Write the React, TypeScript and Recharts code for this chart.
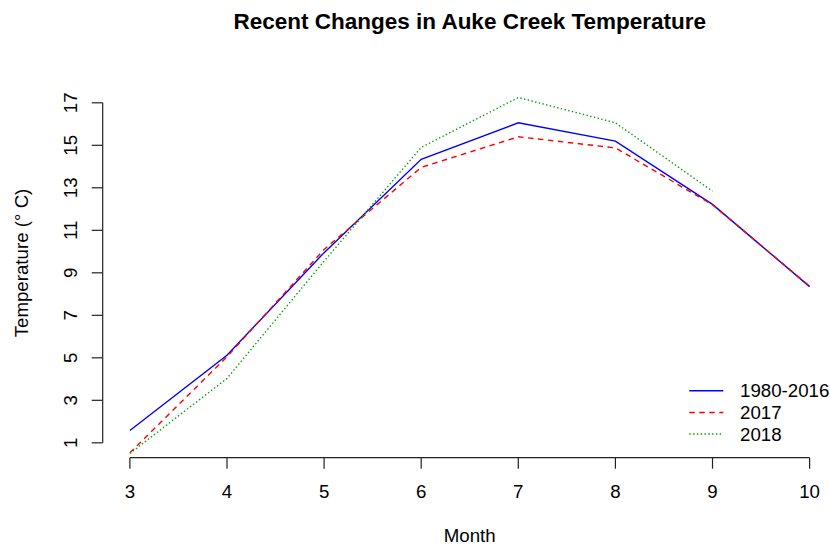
import React from "react";
import {
  LineChart,
  Line,
  XAxis,
  YAxis,
  ReferenceLine,
  Legend,
} from "recharts";

// values
const MONTHS = [3, 4, 5, 6, 7, 8, 9, 10];
const AVG_1980_2016 = [1.58, 5.12, 9.95, 14.34, 16.06, 15.2, 12.22, 8.35];
const Y2017 = [0.53, 5.05, 10.1, 13.96, 15.4, 14.88, 12.2, 8.37];
const Y2018 = [0.5, 4.03, 9.55, 14.9, 17.25, 16.06, 12.84, null];

const X_TICKS = [3, 4, 5, 6, 7, 8, 9, 10];
const Y_TICKS = [1, 3, 5, 7, 9, 11, 13, 15, 17];

const X_MIN = 2.72;
const X_MAX = 10.28;
const Y_MIN = 0.3;
const Y_MAX = 18.6;

const FONT = "'Liberation Sans', Arial, sans-serif";
const AXIS_COLOR = "#222";

const SERIES = [
  { key: "avg", name: "1980-2016", color: "#0000FF", dash: undefined },
  { key: "y2017", name: "2017", color: "#FF0000", dash: "5.5 4.5" },
  { key: "y2018", name: "2018", color: "#00A000", dash: "1.4 2.4" },
];

const data = MONTHS.map((m, i) => ({
  month: m,
  avg: AVG_1980_2016[i],
  y2017: Y2017[i],
  y2018: Y2018[i],
}));

function XTick({ x, y, payload }: any) {
  return (
    <text x={x} y={y} dy="0.71em" textAnchor="middle" fill="#000" fontSize={18.7} fontFamily={FONT}>
      {payload.value}
    </text>
  );
}

function YTick({ x, y, payload }: any) {
  return (
    <text
      x={x}
      y={y}
      transform={`rotate(-90, ${x}, ${y})`}
      textAnchor="middle"
      fill="#000"
      fontSize={18.7}
      fontFamily={FONT}
    >
      {payload.value}
    </text>
  );
}

function LegendBox() {
  return (
    <svg width={150} height={70} style={{ display: "block" }}>
      {SERIES.map((s, i) => {
        const cy = 12.7 + i * 21.7;
        return (
          <g key={s.key}>
            <line x1={4.3} x2={38.3} y1={cy} y2={cy} stroke={s.color} strokeWidth={1.5} strokeDasharray={s.dash} />
            <text x={55} y={cy + 6.7} fontSize={18.7} fontFamily={FONT} fill="#000">
              {s.name}
            </text>
          </g>
        );
      })}
    </svg>
  );
}

export default function App() {
  return (
    <div
      style={{
        position: "absolute",
        left: 0,
        top: 0,
        width: 830,
        height: 546,
        overflow: "hidden",
        background: "#fff",
        fontFamily: FONT,
      }}
    >
      <div
        style={{
          position: "absolute",
          left: 169.75,
          top: 10.9,
          width: 600,
          textAlign: "center",
          fontSize: 22.5,
          lineHeight: "22.5px",
          fontWeight: "bold",
          color: "#000",
          whiteSpace: "nowrap",
        }}
      >
        Recent Changes in Auke Creek Temperature
      </div>
      <LineChart
        width={870}
        height={546}
        data={data}
        margin={{ top: 68.8, right: 33.2, bottom: 48.3, left: 42.7 }}
      >
        <XAxis
          dataKey="month"
          type="number"
          domain={[X_MIN, X_MAX]}
          ticks={X_TICKS}
          allowDataOverflow
          axisLine={false}
          tickLine={{ stroke: AXIS_COLOR, strokeWidth: 1.2 }}
          tickSize={11}
          tickMargin={16.3}
          height={40}
          tick={<XTick />}
          label={{
            content: () => (
              <text x={469.75} y={541.5} textAnchor="middle" fontSize={18.7} fontFamily={FONT} fill="#000">
                Month
              </text>
            ),
          }}
        />
        <YAxis
          type="number"
          domain={[Y_MIN, Y_MAX]}
          ticks={Y_TICKS}
          allowDataOverflow
          axisLine={false}
          tickLine={{ stroke: AXIS_COLOR, strokeWidth: 1.2 }}
          tickSize={11}
          tickMargin={15}
          width={60}
          tick={<YTick />}
          label={{
            content: () => (
              <text
                x={27.5}
                y={263}
                transform="rotate(-90, 27.5, 263)"
                textAnchor="middle"
                fontSize={18.7}
                fontFamily={FONT}
                fill="#000"
              >
                Temperature (° C)
              </text>
            ),
          }}
        />
        <ReferenceLine
          segment={[{ x: 3, y: Y_MIN }, { x: 10, y: Y_MIN }]}
          stroke={AXIS_COLOR}
          strokeWidth={1.2}
          ifOverflow="visible"
        />
        <ReferenceLine
          segment={[{ x: X_MIN, y: 1 }, { x: X_MIN, y: 17 }]}
          stroke={AXIS_COLOR}
          strokeWidth={1.2}
          ifOverflow="visible"
        />
        {SERIES.map((s) => (
          <Line
            key={s.key}
            type="linear"
            dataKey={s.key}
            name={s.name}
            stroke={s.color}
            strokeWidth={1.4}
            strokeDasharray={s.dash}
            dot={false}
            activeDot={false}
            isAnimationActive={false}
          />
        ))}
        <Legend
          layout="vertical"
          align="center"
          verticalAlign="middle"
          wrapperStyle={{ left: 685, top: 378, width: 150 }}
          content={() => <LegendBox />}
        />
      </LineChart>
    </div>
  );
}
